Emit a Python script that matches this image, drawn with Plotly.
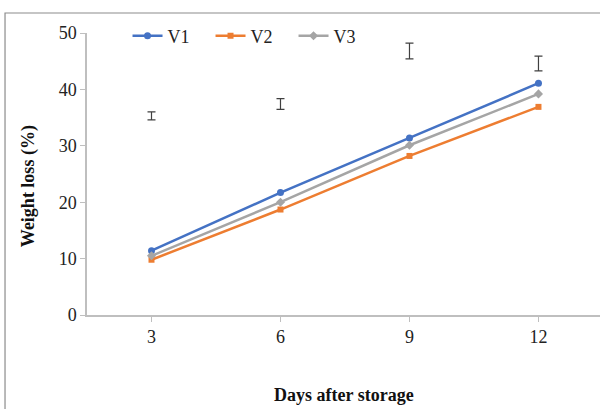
import plotly.graph_objects as go

# Storage days (category labels) and weight loss (%) per variety
days = ["3", "6", "9", "12"]
v1 = [11.4, 21.7, 31.4, 41.1]
v2 = [9.8, 18.7, 28.2, 36.9]
v3 = [10.5, 20.0, 30.1, 39.2]

# Separate error-bar markers (mean and +/- deviation)
err_mean = [35.3, 37.4, 46.8, 44.6]
err_dev = [0.7, 0.95, 1.4, 1.3]

y_ticks = [0, 10, 20, 30, 40, 50]

FONT = "Liberation Serif"

fig = go.Figure()

fig.add_trace(go.Scatter(
    x=days, y=v1, name="V1", mode="lines+markers",
    line=dict(color="#4472C4", width=2.5),
    marker=dict(symbol="circle", size=7, color="#4472C4"),
))
fig.add_trace(go.Scatter(
    x=days, y=v2, name="V2", mode="lines+markers",
    line=dict(color="#ED7D31", width=2.5),
    marker=dict(symbol="square", size=6, color="#ED7D31"),
))
fig.add_trace(go.Scatter(
    x=days, y=v3, name="V3", mode="lines+markers",
    line=dict(color="#A5A5A5", width=2.5),
    marker=dict(symbol="diamond", size=7, color="#A5A5A5"),
))
fig.add_trace(go.Scatter(
    x=days, y=err_mean, mode="markers", showlegend=False,
    marker=dict(size=1, color="rgba(0,0,0,0)"),
    error_y=dict(type="data", array=err_dev, visible=True,
                 color="#404040", thickness=1.2, width=4),
    hoverinfo="skip",
))

fig.update_layout(
    width=600, height=409,
    margin=dict(l=87, r=0, t=33, b=94),
    paper_bgcolor="white", plot_bgcolor="white",
    font=dict(family=FONT, size=18, color="#222222"),
    showlegend=True,
    legend=dict(
        orientation="h", x=0.079, y=0.989, xanchor="left", yanchor="middle",
        font=dict(family=FONT, size=18, color="#222222"),
        entrywidth=38, entrywidthmode="pixels",
        bgcolor="rgba(0,0,0,0)",
    ),
    xaxis=dict(
        type="category", range=[-0.5, 3.477],
        showline=True, linecolor="#BFBFBF", linewidth=1.5,
        ticks="outside", ticklen=5, tickcolor="#BFBFBF",
        showgrid=False, zeroline=False,
        tickfont=dict(family=FONT, size=18, color="#222222"),
    ),
    yaxis=dict(
        range=[0, 50], tickvals=y_ticks,
        showline=True, linecolor="#BFBFBF", linewidth=1.5,
        ticks="outside", ticklen=5, tickcolor="#BFBFBF",
        showgrid=False, zeroline=False,
        tickfont=dict(family=FONT, size=18, color="#222222"),
    ),
    shapes=[dict(
        type="rect", xref="paper", yref="paper",
        x0=-0.1598, x1=1.05, y0=-0.6, y1=1.0709,
        line=dict(color="#8C8C8C", width=1.2), fillcolor="rgba(0,0,0,0)",
        layer="below",
    )],
    annotations=[
        dict(text="<b>Days after storage</b>", xref="paper", yref="paper",
             x=0.501, y=-0.2837, xanchor="center", yanchor="middle",
             showarrow=False, font=dict(family=FONT, size=18, color="#111111")),
        dict(text="<b>Weight loss (%)</b>", xref="paper", yref="paper",
             x=-0.115, y=0.457, xanchor="center", yanchor="middle",
             textangle=-90, showarrow=False,
             font=dict(family=FONT, size=18, color="#111111")),
    ],
)

fig.write_html("out.html")
